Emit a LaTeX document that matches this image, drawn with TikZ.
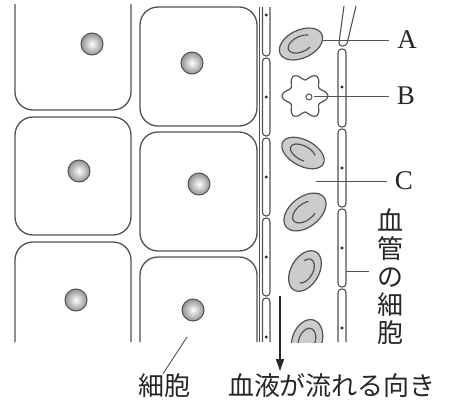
\documentclass[tikz,border=0pt]{standalone}
\usepackage{fontspec}
\setmainfont{Liberation Serif}
\newfontfamily\jpfont{Noto Sans CJK JP}
\usetikzlibrary{arrows.meta}

\definecolor{edge}{gray}{0.32}
\definecolor{rbcfill}{gray}{0.80}

\tikzset{
  outline/.style={draw=edge, line width=1.3pt},
  tissue/.style={outline, rounded corners=18pt},
  wallseg/.style={draw=edge, line width=1.1pt, rounded corners=3.5pt},
  walldot/.style={fill=black!85},
  rbc/.style={draw=edge, line width=1.2pt, fill=rbcfill},
  rbcin/.style={draw=edge, line width=1.2pt},
  leader/.style={draw=edge, line width=0.9pt},
  abc/.style={font=\fontsize{27}{27}\selectfont, inner xsep=8pt, inner ysep=0pt, text=black!85},
  jptext/.style={font=\jpfont\fontsize{26}{28}\selectfont, inner sep=0pt, text=black!85},
  flow/.style={draw=black!85, line width=1.5pt, -{Triangle[length=12pt,width=8pt]}}
}

% red blood cell: x, y, rotation, x radius, y radius, start/end angle of inner fold
\newcommand\rbc[7]{%
  \begin{scope}[shift={(#1,#2)}, rotate=#3]
    \pgfmathsetmacro\rbcix{0.6*#4}
    \pgfmathsetmacro\rbciy{0.55*#5}
    \draw[rbc] (0pt,0pt) ellipse [x radius=#4pt, y radius=#5pt];
    \draw[rbcin] (#6:\rbcix pt and \rbciy pt)
      arc[start angle=#6, end angle=#7, x radius=\rbcix pt, y radius=\rbciy pt];
  \end{scope}}

\begin{document}
\begin{tikzpicture}[x=1pt, y=-1pt]
  \useasboundingbox (0,0) rectangle (459,408);

  % tissue cells
  \draw[tissue] (15,4) -- (15,110) -- (131,110) -- (131,4);
  \draw[tissue] (140,7) rectangle (257,126);
  \draw[tissue] (15,117) rectangle (131,235);
  \draw[tissue] (140,132) rectangle (257,251);
  \draw[tissue] (15,342) -- (15,242) -- (131,242) -- (131,342);
  \draw[tissue] (140,342) -- (140,257) -- (257,257) -- (257,342);

  % nuclei
  \foreach \p in {(92,44),(192,63),(79,171),(199,184),(76,300),(193,310)} {
    \shade[inner color=white, outer color=gray!85] \p circle (11pt);
    \draw[draw=edge, line width=1pt] \p circle (11pt);
  }

  % left vessel wall
  \draw[draw=edge, line width=1.1pt] (259.5,7) -- (259.5,342);
  \draw[wallseg] (262.5,7) -- (262.5,56) -- (270,56) -- (270,7);
  \foreach \a/\b in {58/136,138/216,218/296}
    \draw[wallseg] (262.5,\a) rectangle (270,\b);
  \draw[wallseg] (262.5,342) -- (262.5,298) -- (270,298) -- (270,342);
  \foreach \y in {15,97,177,257,337}
    \fill[walldot] (266.2,\y) circle (1.6pt);

  % right vessel wall
  \draw[wallseg] (344,6) -- (338.5,46) -- (346.5,46) -- (356,6);
  \foreach \a/\b in {49/127,129/207,209/287}
    \draw[wallseg] (338,\a) rectangle (346,\b);
  \draw[wallseg] (338,342) -- (338,289) -- (346,289) -- (346,342);
  \foreach \y in {87,168,248,328}
    \fill[walldot] (342,\y) circle (1.6pt);

  % red blood cells
  \rbc{301}{44}{25}{23}{14}{40}{300}
  \rbc{303}{153}{-28}{23}{13}{30}{290}
  \rbc{305}{212}{38}{24}{15}{50}{300}
  \rbc{305}{271}{60}{22}{14}{190}{410}
  \begin{scope}
    \clip (272,300) rectangle (336,342);
    \rbc{307}{341}{72}{22}{15}{-100}{130}
  \end{scope}

  % white blood cell
  \draw[draw=edge, line width=1.2pt, fill=white]
    plot[smooth cycle, domain=0:350, samples=36]
    ({305+(19.5+3.5*cos(6*\x))*cos(\x)}, {96+(19.5+3.5*cos(6*\x))*sin(\x)});
  \draw[draw=edge, line width=1pt] (309,97) circle (3pt);

  % labels A, B, C
  \node[abc] (labA) at (407,40) {A};
  \node[abc] (labB) at (406,96) {B};
  \node[abc] (labC) at (404,181) {C};
  \coordinate (pA) at (323,40);
  \coordinate (pB) at (314,96);
  \coordinate (pC) at (316,181);
  \draw[leader] (pA) -- (labA.west);
  \draw[leader] (pB) -- (labB.west);
  \draw[leader] (pC) -- (labC.west);

  % vessel cell label
  \node[jptext, align=center, inner xsep=8pt] (labV) at (390,277) {血\\管\\の\\細\\胞};
  \coordinate (pV) at (346,271);
  \draw[leader] (pV) -- (pV -| labV.west);

  % tissue cell label
  \node[jptext] (labCell) at (165,386) {細胞};
  \coordinate (pCell) at (187,337);
  \draw[leader] (pCell) -- ([xshift=-2pt]labCell.north);

  % direction of blood flow
  \coordinate (f1) at (280,296);
  \coordinate (f2) at (280,371);
  \draw[flow] (f1) -- (f2);
  \node[jptext] (labFlow) at (332,386) {血液が流れる向き};
\end{tikzpicture}
\end{document}
